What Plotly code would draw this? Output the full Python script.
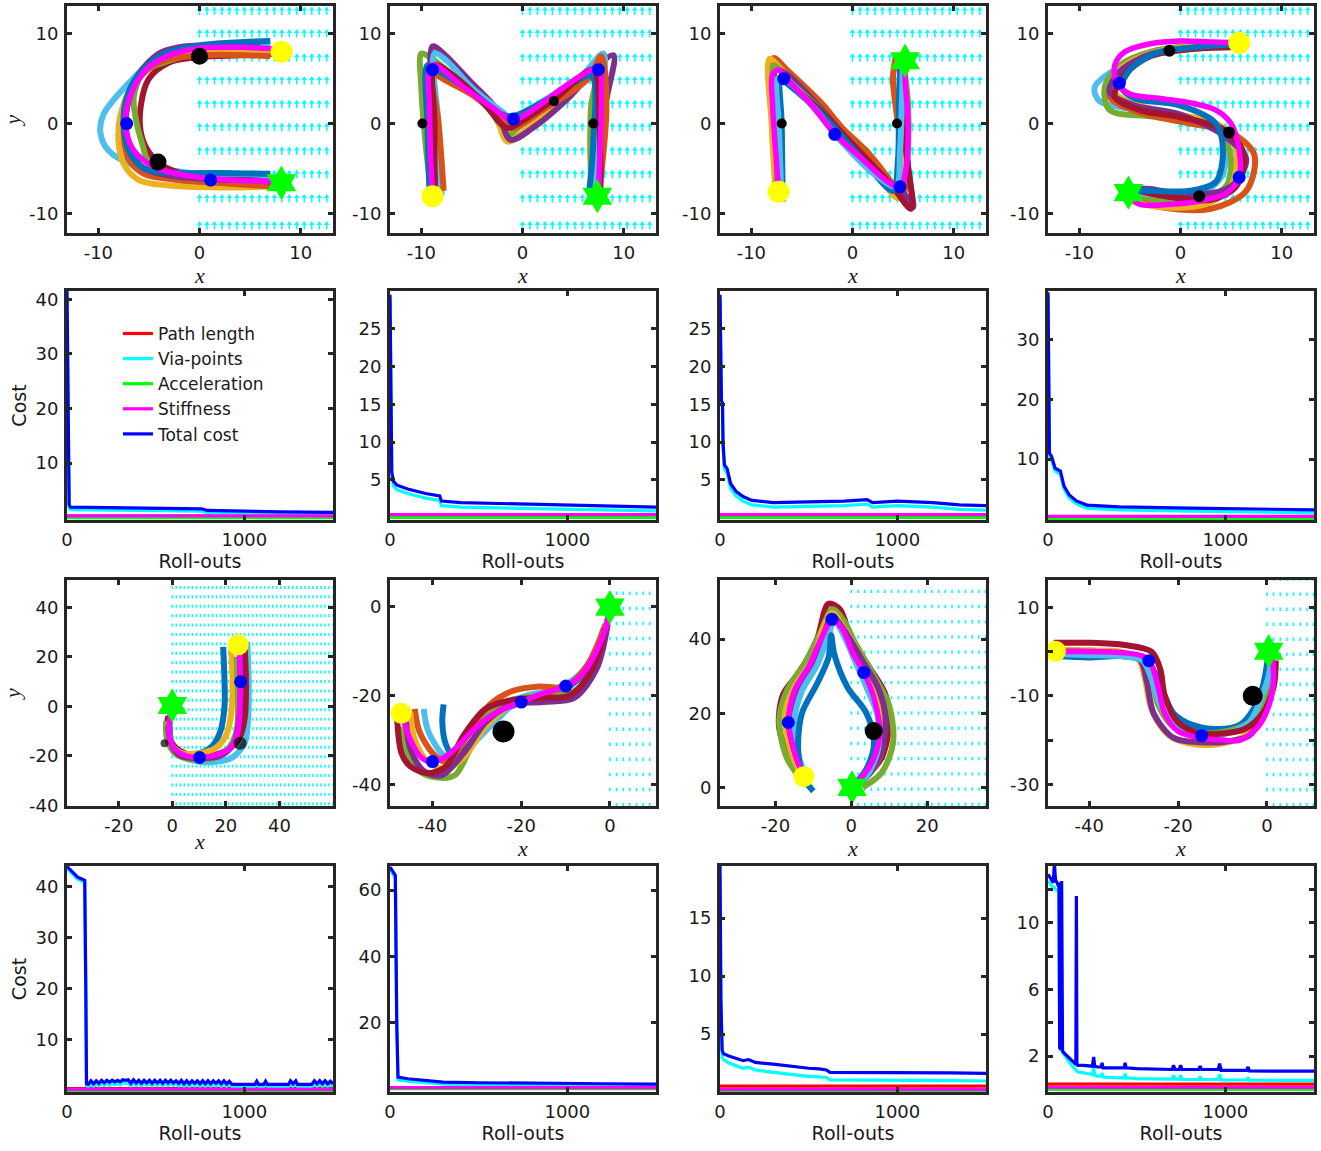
import numpy as np
import plotly.graph_objects as go
from plotly.subplots import make_subplots

# ---------------- DATA ----------------
# MATLAB default colour order used for roll-out trajectories
TRAJ_COLORS = {"blue": "#0072BD", "orange": "#D95319", "yellow": "#EDB120", "purple": "#7E2F8E",
               "green": "#77AC30", "lblue": "#4DBEEE", "dred": "#A2142F"}

# Letter C
C_paths = {
    "lblue": ([7, 3, 0, -4, -7, -9.5, -9.8, -9, -6.5, -3, 0, 4, 7], [8.8, 8.8, 8.6, 7.5, 4.5, 1, -1, -3, -4.6, -5.2, -5.6, -5.7, -5.8]),
    "dred": ([8, 4, 0, -3, -5, -5.8, -5.8, -5, -3.5, -1, 3, 7], [7.8, 7.6, 7.4, 6.8, 5, 2, -1, -3.2, -4.8, -5.8, -6.5, -6.9]),
    "green": ([7, 3, 0, -3, -5.5, -6.5, -6.2, -5.6, -5, -3, 0, 4, 7], [8, 8, 7.9, 7, 5.8, 3, 0, -2.5, -4.5, -6, -6.7, -6.9, -7]),
    "yellow": ([7, 0, -4, -6.5, -7.8, -8, -7.5, -6, -3, 1, 5, 7], [8, 8, 7, 4.5, 1, -2, -4.5, -6.3, -6.9, -7.1, -7.1, -7]),
    "orange": ([7, 0, -4, -6, -7.2, -7.5, -7, -5.5, -2, 3, 7], [7.5, 7.6, 6.8, 5, 2, -1, -4, -5.6, -6.3, -6.7, -7]),
    "purple": ([6, 2, -2, -4, -6, -7, -7.3, -6.8, -5.5, -3, 1, 5, 7], [9, 8.8, 8.5, 7.8, 5.5, 2.5, 0, -3, -5, -5.8, -6.2, -6.3, -6.5]),
    "blue": ([7, 3, 0, -3.5, -6, -7.3, -7.5, -7, -5.5, -2, 2, 7], [9.2, 9, 8.7, 7.8, 5.5, 2.5, 0, -3, -5, -5.5, -5.5, -5.6]),
}
C_final = ([7.5, 4, 0, -3, -5.3, -6.7, -7.3, -7.2, -6.5, -5, -3, 0, 3, 6, 7.5],
           [8.3, 8.5, 8.4, 7.6, 6, 3.5, 1, -1, -3, -4.5, -5.4, -6, -6.3, -6.4, -6.5])
C_start, C_goal = (8.1, 8.0), (8.1, -6.6)
C_via = ([-7.2, 1.1], [0, -6.3])
C_obst = ([0, -4.1], [7.5, -4.3])

# Letter M
M_paths = {
    "green": ([-9, -9.6, -10, -10, -9.3, -6, -3, -1.5, 0, 3, 6.5, 7.5, 6.8, 6.7, 6.9], [-8, -2, 4, 7.8, 7.5, 4.5, 1.2, -1.3, 0, 2.8, 5.5, 6.5, 2, -3, -8.5]),
    "yellow": ([-8.5, -8.8, -9, -8.5, -6, -3, -1.5, 0, 3, 7, 7.8, 7.4, 6.9], [-8, 0, 7, 8, 5.5, 2, -2, -1, 2, 6, 7, 0, -9]),
    "purple": ([-8.6, -8.8, -8.9, -8, -5, -2.5, -1.2, 1, 4.5, 7.5, 9, 8.2, 7.3], [-8, 0, 8.6, 8, 4.5, 1.5, -1.8, -0.5, 2.8, 6.5, 7.6, 2, -9]),
    "lblue": ([-8, -8.3, -8.7, -7.5, -5, -2, -1, 2, 6, 8, 7.8, 7.2], [-8, 0, 7.8, 7, 4, 1.3, 0.5, 2.5, 5.5, 7.8, 2, -8]),
    "orange": ([-7.8, -8.3, -9, -8.2, -5, -2, -1, 2, 6.5, 7.8, 8.3, 7.5], [-7.5, 0, 6, 5.2, 3.2, 0.5, -0.5, 1.5, 5, 7.5, 2, -8.5]),
    "blue": ([-9.2, -9.4, -9.4, -8.5, -5, -2, -1, 3, 6.8, 7, 6.6], [-7.5, 0, 6.5, 6, 3.5, 1, 0.8, 3, 5.3, -2, -7.5]),
    "dred": ([-8.7, -8.7, -8.7, -7, -4, -1.5, 0, 3.5, 7, 7.6, 7.7], [-8.5, 0, 6.5, 5.5, 2.5, -0.5, 0.3, 3, 6, 0, -9]),
}
M_final = ([-8.9, -9.1, -9.2, -9.2, -8.6, -6, -3, -1, 1, 4, 6.5, 7.6, 7.8, 7.7, 7.5],
           [-8, -3, 2, 6.3, 6.5, 4.2, 1.8, 0.4, 1.5, 4, 5.8, 6.2, 3, -2, -8])
M_start, M_goal = (-8.9, -8.1), (7.4, -8.1)
M_via = ([-8.9, -0.9, 7.5], [6.0, 0.5, 6.0])
M_obst = ([-9.9, 3.1, 7.0], [0, 2.5, 0])

# Letter N
N_paths = {
    "orange": ([-7, -7.2, -7.8, -6.5, -3, -1, 1.5, 4, 5, 5.2, 4.5, 4, 4.3], [-8, 0, 7.3, 6, 2.2, -0.5, -3.2, -6.8, -8.5, -6, 0, 5, 7.6]),
    "yellow": ([-7.6, -8, -8.2, -7, -4, -1.5, 2, 4.5, 5, 4.9, 5], [-8, 0, 7.2, 6, 2.5, -1.5, -5, -8.3, -4, 3, 7.5]),
    "purple": ([-7.2, -7.3, -7.6, -6.5, -3, 0, 3, 5.5, 6, 5.5, 5.3, 5.1], [-8.3, 0, 6, 5.5, 1.5, -2.5, -6, -8.3, -9.3, -5, 0, 6]),
    "green": ([-7.5, -7.5, -7.8, -6.5, -3, 1, 4.5, 5.3, 5.5, 5], [-8, 0, 6.5, 5, 1.3, -4.3, -7.5, -5, 2, 7]),
    "dred": ([-7, -7, -7.2, -6.8, -3.5, 0, 3.8, 5.8, 5.3, 4.8, 4.6], [-8, -2, 5, 4.8, 1.8, -2.3, -6.8, -9.5, -3, 4, 7]),
    "blue": ([-6.9, -7, -7.1, -6.5, -3, 1, 4, 4.5, 4.6, 4.8], [-8.7, 0, 5, 4.5, 1, -4, -7.5, -4, 3, 7.5]),
    "lblue": ([-7, -7.3, -7.4, -6.7, -4, -1.5, 2, 4.3, 4.7, 4.9, 5], [-8.5, 0, 5, 5, 2, -1.5, -5.5, -7, -3, 3, 7.8]),
}
N_final = ([-7.3, -7.6, -7.9, -7.9, -7.3, -6.5, -4, -1.7, 1, 3.5, 4.7, 5.3, 5.5, 5.2, 5.2],
           [-7.6, -3, 2, 5.5, 6, 5, 2, -1.2, -4, -6.5, -7.1, -5, 0, 5, 7])
N_start, N_goal = (-7.3, -7.6), (5.2, 7.0)
N_via = ([-6.8, -1.75, 4.7], [5.0, -1.2, -7.05])
N_obst = ([-7.0, 4.4], [0, 0])

# Letter S
S_paths = {
    "lblue": ([5.5, 1, -3, -6.5, -8.5, -8, -4, 0, 3.5, 4.5, 4, 2, -2, -5], [9, 8.5, 7.5, 6, 4, 2.5, 1.5, 0.8, -0.5, -3, -6, -7.8, -8, -7.8]),
    "green": ([5.5, 1, -3, -6, -7.5, -7, -3, 1, 4, 5, 4.5, 2, -2, -5.5], [9, 8.7, 8, 6.5, 4, 1.5, 0.8, 0.2, -1, -4, -7, -8.5, -8.6, -8.2]),
    "orange": ([5.5, 1, -3, -6, -7, -4, 1, 5, 7.3, 6.5, 3, -2, -6], [8.7, 8.3, 7.6, 5.5, 3, 1.2, 0, -1, -3.5, -7.5, -9.5, -9.3, -8]),
    "yellow": ([5.5, 1, -3, -6, -6.5, -4, 0, 4, 5.5, 5, 2.5, -2, -5.5], [9, 8.6, 7.8, 6, 3.5, 2, 1, -0.3, -3, -7, -9, -9.3, -8.5]),
    "purple": ([5.5, 1, -3, -6, -7, -4.5, 0, 4.5, 6.5, 5, 1, -3, -5.5], [8.8, 8.4, 7.7, 5.8, 3.5, 2, 1, -1.5, -4, -7, -8, -7.3, -7.2]),
    "dred": ([5, 1, -3, -5.5, -6.5, -4, 0, 4.5, 6.3, 5.5, 3, -1, -5.3], [8.5, 8.3, 7.5, 5.5, 3, 1.5, 0.7, -0.8, -3.5, -7, -8.5, -8.2, -7.2]),
    "blue": ([5.5, 1.5, -2.5, -5, -5.8, -4.5, 0, 3.5, 4.2, 3.5, 1, -3, -5.5], [8.8, 8.5, 7.8, 6, 4, 2.8, 2, 0, -3, -6.5, -7.5, -7.5, -7.5]),
}
S_final = ([5.8, 3, 0, -3, -5.5, -6.5, -6.3, -5, -2, 1, 3.5, 5, 5.8, 5.8, 4.5, 2, -1, -4, -5.2],
           [9, 9.1, 9.2, 8.9, 8, 6.5, 4.5, 3.3, 2.8, 2.3, 1.5, 0, -3, -6, -7.8, -8.6, -9, -9, -8])
S_start, S_goal = (5.8, 9.0), (-5.15, -7.7)
S_via = ([-6.05, 5.8], [4.5, -6.0])
S_obst = ([-1.1, 4.8, 1.85], [8.1, -1.0, -8.1])

# Letter J
J_paths = {
    "blue": ([19, 19.5, 19.5, 18, 15, 10, 4, 0, -1, -0.5], [24, 10, 0, -10, -16, -19, -19, -15, -8, -2]),
    "lblue": ([28, 28.5, 28.3, 27, 22, 15, 8, 2, -1, -1], [26, 10, -5, -15, -21, -22.5, -22, -19, -12, -4]),
    "dred": ([27, 27.5, 27, 25, 20, 13, 6, 0.5, -2, -1.5], [24, 10, -5, -13, -18, -20, -19.5, -16, -10, -4]),
    "yellow": ([22, 22.5, 22, 20, 16, 10, 4, 0, -1.5], [23, 10, -3, -12, -17, -19, -19, -16, -8]),
    "green": ([24, 24.5, 24, 21, 15, 7, 1, -2, -2.3], [20, 5, -10, -17, -21, -21.5, -19, -13, -6]),
    "purple": ([25, 25.5, 25, 23, 18, 10, 3, -0.5, -1.5], [24, 10, -5, -15, -20, -21, -20, -15, -8]),
}
J_final = ([25, 25.3, 25.5, 25.2, 24.5, 22, 17, 10, 4, 0, -1.3, -0.5, 0],
           [25, 15, 10, 0, -10, -16.5, -19.5, -20.7, -19.5, -16, -10, -3, 0])
J_start, J_goal = (24.6, 24.8), (0, 0.3)
J_via = ([25.5, 10.2], [9.9, -20.7])
J_obst = ([-2.9, 25.3], [-14.9, -14.9])

# Snake (row 3, panel 2)
W_paths = {
    "blue": ([-37.5, -37.8, -37, -35, -30, -25, -20, -15, -10, -5, -2, -0.3], [-22, -26, -31, -34, -29, -24, -21.5, -20, -18.5, -14, -8, -2]),
    "lblue": ([-42, -41, -38, -35, -30, -25, -20, -14, -9, -4, -1.5], [-23, -28, -33, -35, -30, -25, -20.5, -19, -17, -12, -5]),
    "orange": ([-44, -43, -40, -37, -32, -27, -22, -16, -10, -5, -1], [-23, -28, -33, -35, -29, -22, -19, -18, -18, -13, -4]),
    "green": ([-47, -46, -43, -39, -35, -32, -28, -22, -15, -8, -3, -0.5], [-27, -32, -37, -38.5, -38, -33, -25, -21, -20, -19, -12, -3]),
    "yellow": ([-45, -44, -41, -37, -33, -28, -22, -15, -8, -3, -0.5], [-24, -30, -35, -36.5, -34, -27, -22, -21, -20.5, -13, -3]),
    "purple": ([-46, -45, -42, -38, -33, -28, -22, -15, -8, -3, -0.5], [-26, -32, -37, -38, -33, -26, -22, -21.5, -20.5, -14, -4]),
    "dred": ([-48, -47, -45, -41, -37, -33, -28, -22, -15, -9, -4, -1], [-25, -33, -36, -37.5, -36, -29, -23, -21, -20.5, -20, -14, -5]),
}
W_final = ([-47, -45, -42.5, -40, -36, -30, -25, -20, -15, -10, -6, -3, -1, 0],
           [-24, -30, -34, -35, -33, -27, -23.5, -21.5, -19.5, -18, -15, -10, -5, 0])
W_start, W_goal = (-47.1, -24.0), (0, -0.1)
W_via = ([-40, -20, -9.95], [-34.9, -21.5, -17.9])
W_obst = ([-24], [-28.1])

# Drop (row 3, panel 3)
D_paths = {
    "dred": ([-12.5, -16, -19, -18, -13, -9, -6, -3, 0, 5, 9, 10, 8, 4, 1], [3, 8, 16, 25, 32, 40, 49.5, 48, 40, 32, 25, 17, 8, 3, 0.5]),
    "green": ([-13, -17, -19, -17, -12, -8, -5, -2, 1, 6, 10, 11, 8, 3], [2, 8, 18, 26, 34, 42, 48, 45, 39, 30, 22, 12, 4, 0]),
    "yellow": ([-13, -16, -17.5, -15, -10, -7, -5, -2, 2, 5, 8, 8, 5, 1], [3, 10, 20, 27, 35, 44, 47, 43, 36, 28, 20, 10, 4, 0.5]),
    "purple": ([-12.5, -15, -16.5, -14, -10, -7, -5, -1, 3, 7, 9, 8, 5, 1], [3, 10, 18, 26, 33, 42, 46, 41, 34, 27, 19, 10, 4, 0]),
    "lblue": ([-12, -14, -15, -13, -9, -6, -4.5, -2, 1, 4, 7, 7, 4, 1], [3, 9, 18, 26, 33, 41, 45, 41, 34, 27, 19, 10, 3, 0.5]),
    "blue": ([-10, -12.5, -14, -13, -9, -6, -5.3, -4.5, -1, 4, 6, 4, 1], [-1, 2.5, 10, 20, 28, 35, 41, 36, 27, 20, 12, 5, 1]),
}
D_final = ([-12.5, -14.5, -16.5, -15, -11, -7.5, -5, -2.5, 0.5, 3.3, 6, 7.5, 6, 3, 0.5],
           [3, 8, 17.5, 26, 33, 41, 45.3, 43, 36, 31, 24, 15, 8, 3, 0.5])
D_start, D_goal = (-12.5, 2.9), (0.2, 0)
D_via = ([-16.6, -5.1, 3.3], [17.5, 45.3, 31])
D_obst = ([5.9], [15.2])

# Z-shape (row 3, panel 4)
Z_paths = {
    "blue": ([-48, -40, -33, -28, -25, -23, -21, -17, -11, -6, -3, -1, 0, 0.3], [-1, -1.3, -1, -2, -5, -10, -14, -16.5, -17.5, -16.5, -13, -8, -3, 0]),
    "yellow": ([-48, -40, -33, -29, -27.5, -26, -22, -16, -10, -5, -1, 0.5, 0.7], [0.5, 0.3, 0, -1.5, -6, -13, -19, -21, -20.8, -19, -14, -7, -1]),
    "purple": ([-48, -40, -33, -28.5, -27, -25.5, -21, -15, -9, -4, -1, 0.5, 0.5], [0, 0, -0.5, -2, -7, -14, -19.5, -20.5, -20.3, -19, -14, -7, 0]),
    "green": ([-48, -40, -33, -28, -26, -24.5, -21, -15, -9, -4, -1, 1, 1], [-0.5, -0.5, -0.8, -2, -6, -12, -17, -18.5, -18, -16, -12, -6, -1]),
    "lblue": ([-48, -40, -33, -28, -26, -24, -20, -15, -9, -4, -1.5, 0.5, 0.8], [-0.5, -0.8, -1, -2, -6, -12, -17, -19, -18.5, -16, -11, -5, 0]),
    "dred": ([-48, -40, -32, -26, -24, -23, -20, -15, -10, -5, -1, 1.5, 2], [2, 2, 1.5, 0, -4, -10, -16, -18.5, -18.5, -17.5, -14, -8, -2]),
}
Z_final = ([-47.6, -40, -33, -28, -26, -24.5, -23, -20, -15, -10, -6, -2, 0.5, 1.5, 1],
           [0, 0, -0.2, -1, -3, -8, -14, -18, -19.5, -20, -20, -17, -12, -6, 0])
Z_start, Z_goal = (-47.6, 0.1), (0.4, 0.1)
Z_via = ([-26.6, -14.7], [-2.05, -19.0])
Z_obst = ([-3.2], [-10])

# Cost curves (roll-outs vs cost)
C_ro = [0, 3, 8, 12, 20, 200, 500, 760, 790, 1000, 1200, 1500]
C_total = [41.5, 30, 10, 2.4, 1.95, 1.85, 1.75, 1.65, 1.35, 1.2, 1.1, 1.0]
C_via_cost = [40.6, 29, 9.2, 1.8, 1.5, 1.4, 1.3, 1.2, 0.9, 0.8, 0.72, 0.65]
C_path, C_accel, C_stiff = [0.3, 0.3], [0.03, 0.03], [0.35, 0.35]

M_ro = [0, 4, 10, 20, 40, 100, 200, 280, 290, 400, 600, 1000, 1500]
M_total = [29.5, 15, 6, 4.8, 4.3, 3.8, 3.2, 2.9, 2.2, 2.0, 1.9, 1.7, 1.4]
M_via_cost = [29, 14.5, 5.4, 4.2, 3.7, 3.2, 2.6, 2.3, 1.6, 1.4, 1.3, 1.1, 0.9]
M_path, M_accel, M_stiff = [0.35, 0.35], [0.03, 0.03], [0.4, 0.4]

N_ro = [0, 3, 8, 14, 17, 25, 40, 60, 90, 130, 180, 300, 500, 700, 830, 860, 1000, 1200, 1350, 1500]
N_total = [29.5, 20, 15.5, 15.2, 10, 7, 6.5, 4.5, 3.5, 2.8, 2.3, 2.0, 2.1, 2.2, 2.4, 2.0, 2.2, 2.0, 1.7, 1.6]
N_via_cost = [29, 19.5, 15, 14.7, 9.5, 6.4, 5.9, 3.9, 2.9, 2.2, 1.7, 1.4, 1.5, 1.6, 1.8, 1.4, 1.6, 1.4, 1.1, 1.0]
N_path, N_accel, N_stiff = [0.35, 0.35], [0.03, 0.03], [0.4, 0.4]

S_ro = [0, 3, 8, 20, 40, 70, 90, 120, 160, 220, 400, 800, 1200, 1500]
S_total = [38, 20, 11, 10.5, 8.5, 8, 5.5, 4, 3, 2.3, 2.0, 1.8, 1.6, 1.5]
S_via_cost = [37.5, 19.5, 10.5, 10, 8, 7.5, 5, 3.5, 2.5, 1.8, 1.5, 1.3, 1.1, 1.0]
S_path, S_accel, S_stiff = [0.35, 0.35], [0.03, 0.03], [0.4, 0.4]

J_ro = [0, 20, 40, 60, 80, 100, 106, 110, 120, 135, 150, 165, 180, 195, 210, 225, 240, 255, 270, 285, 300, 315,
        330, 345, 360, 375, 390, 405, 420, 435, 450, 465, 480, 495, 510, 525, 540, 555, 570, 585, 600, 615, 630,
        645, 660, 675, 690, 705, 720, 735, 750, 765, 780, 795, 810, 825, 840, 855, 870, 885, 900, 915, 930, 945,
        960, 975, 990, 1060, 1070, 1080, 1110, 1120, 1130, 1250, 1260, 1275, 1290, 1300, 1380, 1395, 1410, 1425,
        1440, 1455, 1470, 1485, 1500]
J_total = [44, 43.3, 42.5, 41.9, 41.6, 41.3, 20, 1.4, 1.3, 2.0, 1.4, 2.0, 1.5, 2.1, 1.6, 2.1, 1.7, 2.1, 1.8, 2.1,
           1.8, 2.2, 2.1, 2.2, 1.5, 2.2, 1.6, 2.1, 1.5, 2.1, 1.6, 2.1, 1.5, 2.1, 1.6, 2.1, 1.5, 2.1, 1.6, 2.1,
           1.6, 2.0, 1.5, 2.1, 1.4, 2.0, 1.4, 2.0, 1.5, 2.0, 1.4, 2.0, 1.4, 2.0, 1.4, 2.0, 1.5, 2.0, 1.4, 2.0,
           1.4, 1.9, 1.3, 1.3, 1.3, 1.3, 1.3, 1.3, 1.9, 1.3, 1.3, 1.9, 1.3, 1.3, 2.0, 1.4, 2.0, 1.3, 1.3, 2.0,
           1.4, 2.0, 1.4, 2.0, 1.4, 1.9, 1.4]
J_via_cost = [43.6, 42.9, 42.1, 41.5, 41.2, 40.9, 19.6, 1.0, 0.9, 1.4, 0.9, 1.4, 1.0, 1.5, 1.1, 1.5, 1.1, 1.5, 1.2,
              1.5, 1.2, 1.6, 1.5, 1.6, 1.0, 1.6, 1.1, 1.5, 1.0, 1.5, 1.1, 1.5, 1.0, 1.5, 1.1, 1.5, 1.0, 1.5, 1.1,
              1.5, 1.1, 1.4, 1.0, 1.5, 0.9, 1.4, 0.9, 1.4, 1.0, 1.4, 0.9, 1.4, 0.9, 1.4, 0.9, 1.4, 1.0, 1.4, 0.9,
              1.4, 0.9, 1.3, 0.9, 0.9, 0.9, 0.9, 0.9, 0.9, 1.3, 0.9, 0.9, 1.3, 0.9, 0.9, 1.4, 0.9, 1.4, 0.9, 0.9,
              1.4, 0.9, 1.4, 0.9, 1.4, 0.9, 1.3, 0.9]
J_path, J_accel, J_stiff = [0.45, 0.45], [0.03, 0.03], [0.3, 0.3]

W_ro = [0, 10, 30, 38, 45, 100, 200, 300, 500, 800, 1200, 1500]
W_total = [67, 66, 64.5, 20, 3.5, 3.0, 2.5, 2.0, 1.8, 1.6, 1.5, 1.4]
W_via_cost = [66.2, 65.2, 63.7, 19.2, 2.7, 2.3, 1.8, 1.4, 1.2, 1.0, 0.9, 0.85]
W_path, W_accel, W_stiff = [0.35, 0.35], [0.03, 0.03], [0.3, 0.3]

D_ro = [0, 5, 12, 20, 50, 100, 130, 160, 200, 300, 400, 500, 560, 600, 620, 700, 900, 1100, 1300, 1500]
D_total = [19.5, 8, 3.6, 3.3, 3.1, 2.85, 2.7, 2.8, 2.55, 2.4, 2.2, 2.05, 2.0, 1.9, 1.7, 1.7, 1.7, 1.65, 1.65, 1.6]
D_via_cost = [18.5, 7, 3.0, 2.8, 2.5, 2.2, 2.05, 2.15, 1.9, 1.7, 1.5, 1.35, 1.3, 1.25, 1.05, 1.05, 1.0, 1.0, 0.98, 0.95]
D_path, D_accel, D_stiff = [0.5, 0.5], [0.04, 0.04], [0.22, 0.22]

Z_ro = [0, 20, 30, 36, 42, 55, 62, 66, 72, 77, 82, 90, 110, 130, 150, 157, 160, 163, 168, 200, 250, 258, 263,
        280, 300, 305, 310, 400, 430, 435, 440, 500, 700, 708, 716, 740, 748, 756, 850, 858, 866, 960, 968, 976,
        1120, 1128, 1136, 1300, 1500]
Z_total = [12.9, 12.6, 12.4, 13.6, 12.6, 12.3, 12.4, 2.5, 2.4, 12.5, 2.3, 2.2, 2.0, 1.8, 1.55, 1.5, 11.6, 1.5, 1.45,
           1.45, 1.4, 1.95, 1.4, 1.35, 1.35, 1.6, 1.3, 1.3, 1.3, 1.6, 1.3, 1.25, 1.2, 1.45, 1.2, 1.2, 1.45, 1.2,
           1.2, 1.4, 1.2, 1.2, 1.55, 1.15, 1.15, 1.35, 1.12, 1.1, 1.1]
Z_via_cost = [12.5, 12.2, 12.1, 12.1, 12.0, 11.9, 11.8, 2.5, 2.4, 2.3, 2.2, 2.1, 1.8, 1.5, 1.25, 1.2, 1.15, 1.1,
              1.05, 1.0, 0.9, 1.3, 0.85, 0.8, 0.8, 1.0, 0.75, 0.7, 0.7, 0.95, 0.7, 0.65, 0.62, 0.85, 0.62, 0.62,
              0.85, 0.6, 0.6, 0.78, 0.6, 0.6, 0.9, 0.58, 0.57, 0.72, 0.56, 0.55, 0.55]
Z_path, Z_accel, Z_stiff = [0.32, 0.32], [0.0, 0.0], [0.12, 0.12]

COST_NAMES = ["Path length", "Via-points", "Acceleration", "Stiffness", "Total cost"]
COST_COLORS = ["#FF0000", "#00FFFF", "#00FF00", "#FF00FF", "#0000FF"]

# ---------------- LAYOUT ----------------
W, H = 1321, 1151
COL_L = [67, 390, 720, 1048]
COL_W = 266
ROW_T = [6, 291, 580, 866]
ROW_B = [233, 520, 806, 1092]

fig = make_subplots(rows=4, cols=4)
FRAME = "#262626"
TICKFONT = dict(family="DejaVu Sans", size=18, color="#1a1a1a")
LABFONT = dict(family="DejaVu Sans", size=19, color="#1a1a1a")
MATHFONT = dict(family="Liberation Serif", size=22, color="#1a1a1a")


def style_axes(r, c, xr, yr, xt, yt, xtt=None, ytt=None, xtitle=None, ytitle=None, xfont=None, yfont=None):
    common = dict(showline=True, mirror="allticks", linecolor=FRAME, linewidth=3, ticks="inside",
                  ticklen=5, tickwidth=3, tickcolor=FRAME, showgrid=False, zeroline=False,
                  tickfont=TICKFONT, automargin=False, fixedrange=True)
    fig.update_xaxes(domain=[COL_L[c - 1] / W, (COL_L[c - 1] + COL_W) / W], range=xr, tickvals=xt,
                     ticktext=xtt if xtt else [str(v) for v in xt],
                     title=dict(text=xtitle, font=xfont, standoff=0) if xtitle else None,
                     ticklabelstandoff=1, **common, row=r, col=c)
    fig.update_yaxes(domain=[1 - ROW_B[r - 1] / H, 1 - ROW_T[r - 1] / H], range=yr, tickvals=yt,
                     ticktext=ytt if ytt else [str(v) for v in yt],
                     title=dict(text=ytitle, font=yfont, standoff=4) if ytitle else None,
                     ticklabelstandoff=2, **common, row=r, col=c)


def add_field(r, c, xs, ys, length, head):
    sx, sy, hx, hy = [], [], [], []
    for x in xs:
        for y in ys:
            sx += [x, x, None]
            sy += [y, y + length, None]
            hx.append(x)
            hy.append(y + length * 0.75)
    fig.add_trace(go.Scatter(x=sx, y=sy, mode="lines", line=dict(color="#00FFFF", width=1.6),
                             hoverinfo="skip", showlegend=False, cliponaxis=True), r, c)
    if head:
        fig.add_trace(go.Scatter(x=hx, y=hy, mode="markers",
                                 marker=dict(symbol="triangle-up", size=5, color="#00FFFF", line=dict(width=0)),
                                 hoverinfo="skip", showlegend=False, cliponaxis=True), r, c)


def add_traj(r, c, paths, final, start, goal, via, obst, obst_size, big=22):
    for name, (px, py) in paths.items():
        fig.add_trace(go.Scatter(x=px, y=py, mode="lines",
                                 line=dict(color=TRAJ_COLORS[name], width=6, shape="spline", smoothing=0.9),
                                 hoverinfo="skip", showlegend=False), r, c)
    fig.add_trace(go.Scatter(x=final[0], y=final[1], mode="lines",
                             line=dict(color="#FF00FF", width=5.5, shape="spline", smoothing=0.9),
                             hoverinfo="skip", showlegend=False), r, c)
    fig.add_trace(go.Scatter(x=via[0], y=via[1], mode="markers",
                             marker=dict(color="#0000FF", size=13, line=dict(width=0)),
                             showlegend=False), r, c)
    fig.add_trace(go.Scatter(x=obst[0], y=obst[1], mode="markers",
                             marker=dict(color="#000000", size=obst_size, line=dict(width=0)),
                             showlegend=False), r, c)
    fig.add_trace(go.Scatter(x=[start[0]], y=[start[1]], mode="markers",
                             marker=dict(color="#FFFF00", size=big, line=dict(width=0)),
                             showlegend=False, cliponaxis=False), r, c)
    fig.add_trace(go.Scatter(x=[goal[0]], y=[goal[1]], mode="markers",
                             marker=dict(color="#00FF00", symbol="hexagram", size=26, line=dict(width=0)),
                             showlegend=False, cliponaxis=False), r, c)


def add_cost(r, c, ro, total, via, path, accel, stiff, legend=False):
    end = [0, 1500]
    series = [(end, path), (ro, via), (end, accel), (end, stiff), (ro, total)]
    for (xs, ys), name, col in zip(series, COST_NAMES, COST_COLORS):
        fig.add_trace(go.Scatter(x=xs, y=ys, mode="lines", name=name,
                                 line=dict(color=col, width=3.2), showlegend=legend,
                                 hoverinfo="skip"), r, c)


# --- Row 1: letters C, M, N, S
row1_field_x = list(np.arange(0, 13.5, 0.74))
row1_field_y = [-11.8, -8.8, -6.1, -3.5, -0.85, 1.7, 4.35, 6.9, 9.6, 12.1]
letters = [(C_paths, C_final, C_start, C_goal, C_via, C_obst, 17),
           (M_paths, M_final, M_start, M_goal, M_via, M_obst, 10),
           (N_paths, N_final, N_start, N_goal, N_via, N_obst, 10),
           (S_paths, S_final, S_start, S_goal, S_via, S_obst, 12)]
for i, (p, f, s, g, v, o, osz) in enumerate(letters):
    c = i + 1
    add_field(1, c, row1_field_x, row1_field_y, 0.85, True)
    add_traj(1, c, p, f, s, g, v, o, osz)
    style_axes(1, c, [-13.1, 13.2], [-12.2, 13.1], [-10, 0, 10], [-10, 0, 10],
               xtitle="<i>x</i>", ytitle="<i>y</i>" if c == 1 else None, xfont=MATHFONT, yfont=MATHFONT)

# --- Row 2: costs for C, M, N, S
costs_top = [(C_ro, C_total, C_via_cost, C_path, C_accel, C_stiff, [-0.4, 41.5], [10, 20, 30, 40]),
             (M_ro, M_total, M_via_cost, M_path, M_accel, M_stiff, [-0.3, 30], [5, 10, 15, 20, 25]),
             (N_ro, N_total, N_via_cost, N_path, N_accel, N_stiff, [-0.3, 30], [5, 10, 15, 20, 25]),
             (S_ro, S_total, S_via_cost, S_path, S_accel, S_stiff, [-0.2, 38.2], [10, 20, 30])]
for i, (ro, tot, via, pa, ac, st, yr, yt) in enumerate(costs_top):
    c = i + 1
    add_cost(2, c, ro, tot, via, pa, ac, st, legend=(c == 1))
    style_axes(2, c, [0, 1500], yr, [0, 1000], yt, xtitle="Roll-outs",
               ytitle="Cost" if c == 1 else None, xfont=LABFONT, yfont=LABFONT)

# --- Row 3: J, snake, drop, Z
add_field(3, 1, list(np.arange(0, 60.5, 1.5)), list(np.arange(-40, 51, 3.8)), 1.2, False)
add_traj(3, 1, J_paths, J_final, J_start, J_goal, J_via, J_obst, [8, 13], big=21)
style_axes(3, 1, [-39.3, 60], [-40.3, 51], [-20, 0, 20, 40], [-40, -20, 0, 20, 40],
           xtitle="<i>x</i>", ytitle="<i>y</i>", xfont=MATHFONT, yfont=MATHFONT)

add_field(3, 2, list(np.arange(0, 10.5, 1.5)), list(np.arange(-45, 6.5, 3.4)), 0.8, False)
add_traj(3, 2, W_paths, W_final, W_start, W_goal, W_via, W_obst, 22, big=21)
style_axes(3, 2, [-49.6, 10.4], [-44.9, 6], [-40, -20, 0], [-40, -20, 0],
           xtitle="<i>x</i>", xfont=MATHFONT)

add_field(3, 3, list(np.arange(0, 35.5, 1.77)), list(np.arange(-5, 56, 4.1)), 0.9, False)
add_traj(3, 3, D_paths, D_final, D_start, D_goal, D_via, D_obst, 18, big=21)
style_axes(3, 3, [-34.6, 35.5], [-5, 55.9], [-20, 0, 20], [0, 20, 40],
           xtitle="<i>x</i>", xfont=MATHFONT)

add_field(3, 4, list(np.arange(0, 10.7, 1.5)), list(np.arange(-35, 16.5, 3.4)), 0.8, False)
add_traj(3, 4, Z_paths, Z_final, Z_start, Z_goal, Z_via, Z_obst, 20, big=21)
style_axes(3, 4, [-49.3, 10.6], [-34.9, 16.2], [-40, -20, 0], [-30, -20, -10, 0, 10],
           ytt=["-30", "", "-10", "", "10"], xtitle="<i>x</i>", xfont=MATHFONT)

# --- Row 4: costs for J, snake, drop, Z
costs_bot = [(J_ro, J_total, J_via_cost, J_path, J_accel, J_stiff, [-0.2, 44.1], [10, 20, 30, 40], None),
             (W_ro, W_total, W_via_cost, W_path, W_accel, W_stiff, [-1.0, 67.3], [20, 40, 60], None),
             (D_ro, D_total, D_via_cost, D_path, D_accel, D_stiff, [0, 19.5], [5, 10, 15], None),
             (Z_ro, Z_total, Z_via_cost, Z_path, Z_accel, Z_stiff, [-0.15, 13.4], [2, 4, 6, 8, 10, 12],
              ["2", "", "6", "", "10", ""])]
for i, (ro, tot, via, pa, ac, st, yr, yt, ytt) in enumerate(costs_bot):
    c = i + 1
    add_cost(4, c, ro, tot, via, pa, ac, st)
    style_axes(4, c, [0, 1500], yr, [0, 1000], yt, ytt=ytt, xtitle="Roll-outs",
               ytitle="Cost" if c == 1 else None, xfont=LABFONT, yfont=LABFONT)

fig.update_layout(
    width=W, height=H, margin=dict(l=0, r=0, t=0, b=0),
    paper_bgcolor="white", plot_bgcolor="white",
    legend=dict(x=0.0893, y=0.7255, xanchor="left", yanchor="top", bgcolor="rgba(0,0,0,0)",
                font=dict(family="DejaVu Sans", size=17, color="#1a1a1a"), tracegroupgap=0,
                itemwidth=30),
)

fig.write_html("out.html", config={"displayModeBar": False},
               post_script="document.body.style.margin='0px';")
